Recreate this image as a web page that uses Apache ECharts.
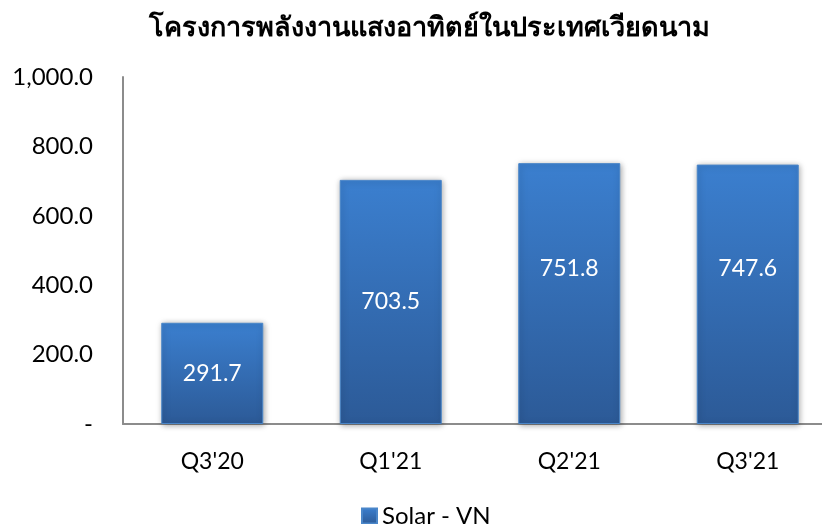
<!DOCTYPE html>
<html>
<head>
<meta charset="utf-8">
<script src="https://cdn.jsdelivr.net/npm/echarts@6/dist/echarts.min.js"></script>
<style>
  html, body { margin: 0; padding: 0; background: #fff; }
  #main { width: 822px; height: 524px; }
</style>
</head>
<body>
<div id="main"></div>
<script>
var titleText = 'โครงการพลังงานแสงอาทิตย์ในประเทศเวียดนาม';
var seriesName = 'Solar - VN';
var quarters = ["Q3'20", "Q1'21", "Q2'21", "Q3'21"];
var solarValues = [291.7, 703.5, 751.8, 747.6];
// label nudges (px), the last two labels sit higher than the bar centre
var labelNudge = [0, 0, -25, -26];

var myChart = echarts.init(document.getElementById('main'));

var barColor = new echarts.graphic.LinearGradient(0, 0, 0, 1, [
    {offset: 0, color: '#3b7fcf'},
    {offset: 1, color: '#2c5a97'}
]);

var option = {
    animation: false,
    title: {
        text: titleText,
        left: 424,
        top: 10,
        textAlign: 'center',
        textStyle: {
            fontSize: 27,
            fontWeight: 'bold',
            color: '#000',
            fontFamily: 'Noto Sans, sans-serif'
        }
    },
    legend: {
        top: 499,
        left: 356,
        icon: 'rect',
        itemWidth: 15,
        itemHeight: 15,
        itemGap: 5,
        data: [seriesName],
        textStyle: {fontSize: 24, color: '#000', fontFamily: 'Lato, sans-serif'}
    },
    grid: {
        left: 123,
        width: 714,
        top: 77,
        bottom: 100,
        outerBoundsMode: 'none'
    },
    xAxis: {
        type: 'category',
        data: quarters,
        axisLine: {lineStyle: {color: '#8c8c8c', width: 2}},
        axisTick: {show: false},
        axisLabel: {
            fontSize: 23, color: '#000', margin: 26,
            fontFamily: 'Lato, sans-serif'
        }
    },
    yAxis: {
        type: 'value',
        min: 0,
        max: 1000,
        interval: 200,
        splitLine: {show: false},
        axisLine: {show: true, lineStyle: {color: '#8c8c8c', width: 2}},
        axisTick: {show: false},
        axisLabel: {
            fontSize: 24, color: '#000', margin: 30,
            fontFamily: 'Lato, sans-serif',
            formatter: function (v) {
                if (v === 0) return '-';
                return v.toLocaleString('en-US', {minimumFractionDigits: 1, maximumFractionDigits: 1});
            }
        }
    },
    series: [{
        name: seriesName,
        type: 'bar',
        barWidth: 102,
        itemStyle: {
            color: barColor,
            borderColor: '#4a86c9',
            borderWidth: 1,
            shadowColor: 'rgba(0,0,0,0.35)',
            shadowBlur: 6,
            shadowOffsetX: 1,
            shadowOffsetY: 1
        },
        label: {
            show: true,
            position: 'inside',
            color: '#fff',
            fontSize: 23,
            fontFamily: 'Lato, sans-serif',
            formatter: function (p) { return p.value.toFixed(1); }
        },
        data: solarValues.map(function (v, i) {
            return {value: v, label: {offset: [0, labelNudge[i]]}};
        })
    }]
};

myChart.setOption(option);
</script>
</body>
</html>
